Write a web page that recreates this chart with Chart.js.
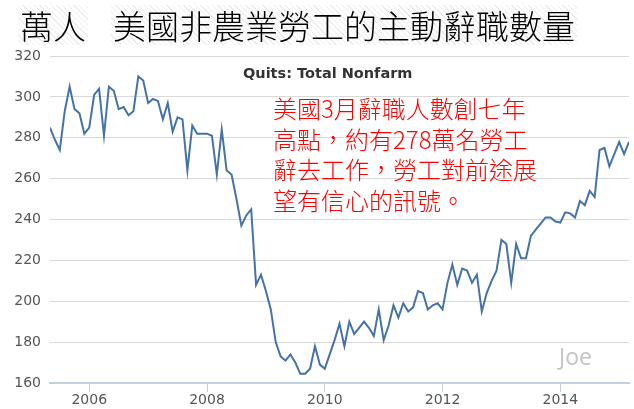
<!DOCTYPE html>
<html>
<head>
<meta charset="utf-8">
<script src="https://cdn.jsdelivr.net/npm/chart.js@4/dist/chart.umd.min.js"></script>
<style>
  body { margin: 0; background: #fff; }
  #wrap { position: relative; width: 634px; height: 409px; }
  canvas { position: absolute; left: 0; top: 0; }
  .hatch {
    position: absolute;
    background: repeating-linear-gradient(45deg, #fff 0 3px, #ececec 3px 4px);
    font-family: "Noto Sans CJK TC", sans-serif;
    font-weight: 300;
    font-size: 33px;
    line-height: 40px;
    color: #000;
    white-space: nowrap;
  }
  #unit { left: 18px; top: 5px; padding: 0 2px; }
  #title { left: 111px; top: 5px; padding: 0 2px; }
  #subtitle {
    position: absolute; left: 243px; top: 65px;
    font: bold 14.5px "DejaVu Sans", sans-serif; color: #333;
  }
  #note {
    position: absolute; left: 273px; top: 93px;
    font-family: "Noto Sans CJK TC", sans-serif;
    font-weight: 300;
    font-size: 24px; line-height: 30.5px; color: #ff0000;
    white-space: nowrap;
  }
  #sign {
    position: absolute; left: 559px; top: 340px;
    font: 23px "Open Sans", sans-serif; color: #c4c4c4;
  }
</style>
</head>
<body>
<div id="wrap">
  <canvas id="quits-chart" width="634" height="409"></canvas>
  <div class="hatch" id="unit">萬人</div>
  <div class="hatch" id="title">美國非農業勞工的主動辭職數量</div>
  <div id="subtitle">Quits: Total Nonfarm</div>
  <div id="note">美國3月辭職人數創七年<br>高點，約有278萬名勞工<br>辭去工作，勞工對前途展<br>望有信心的訊號。</div>
  <div id="sign">Joe</div>
</div>
<script>
// 月資料：2005年5月 ~ 2015年3月（萬人）
const startYear = 2005;
const startMonth = 5;
const quits = [
  285, 279, 274, 293, 305, 294, 292, 282,
  285, 301, 304, 281, 305, 303, 294, 295, 291, 293, 310, 308,
  297, 299, 298, 289, 297, 283, 290, 289, 264, 286, 282, 282,
  282, 281, 262, 284, 264, 262, 250, 237, 242, 245, 208, 213,
  205, 196, 180, 173, 171, 174, 170, 164.5, 164.5, 167, 178, 169,
  167, 174, 181, 189, 178, 190, 184, 187, 190, 187, 183, 196,
  181, 188, 198, 192, 199, 195, 197, 205, 204, 196, 198, 199,
  196, 209, 218, 208, 216, 215, 209, 213, 195, 204, 210, 215,
  230, 228, 209, 228, 221, 221, 232, 235, 238, 241, 241, 239,
  238.5, 243.5, 243, 241, 249, 247, 254, 251, 274, 275, 266, 272,
  278, 272, 278
];
const tickYears = [2006, 2008, 2010, 2012, 2014];
const yTicks = [160, 180, 200, 220, 240, 260, 280, 300, 320];

const points = quits.map((v, i) => ({
  x: startYear + (startMonth - 1 + i) / 12,
  y: v
}));

const TICK_FONT = { family: 'DejaVu Sans', size: 14 };

new Chart(document.getElementById('quits-chart'), {
  type: 'line',
  data: {
    datasets: [{
      label: 'Quits: Total Nonfarm',
      data: points,
      borderColor: '#4572a7',
      borderWidth: 2,
      pointRadius: 0,
      tension: 0,
      fill: false
    }]
  },
  options: {
    responsive: false,
    animation: false,
    devicePixelRatio: 1,
    layout: { padding: { top: 56, right: 5, left: 0, bottom: 0 } },
    plugins: {
      legend: { display: false },
      tooltip: { enabled: false }
    },
    scales: {
      x: {
        type: 'linear',
        min: points[0].x,
        max: points[points.length - 1].x,
        afterBuildTicks: s => { s.ticks = tickYears.map(v => ({ value: v })); },
        afterFit: s => { s.height = 26; },
        ticks: {
          color: '#555',
          font: TICK_FONT,
          autoSkip: false,
          maxRotation: 0,
          padding: 0,
          callback: v => String(v)
        },
        grid: { drawOnChartArea: false, tickLength: 9, color: '#c0d0e0' },
        border: { color: '#c0d0e0', width: 2 }
      },
      y: {
        min: yTicks[0],
        max: yTicks[yTicks.length - 1],
        afterBuildTicks: s => { s.ticks = yTicks.map(v => ({ value: v })); },
        afterFit: s => { s.width = 50; },
        ticks: { color: '#555', font: TICK_FONT, padding: 9 },
        grid: { color: '#d9d9d9', drawTicks: false },
        border: { display: false }
      }
    }
  }
});
</script>
</body>
</html>
